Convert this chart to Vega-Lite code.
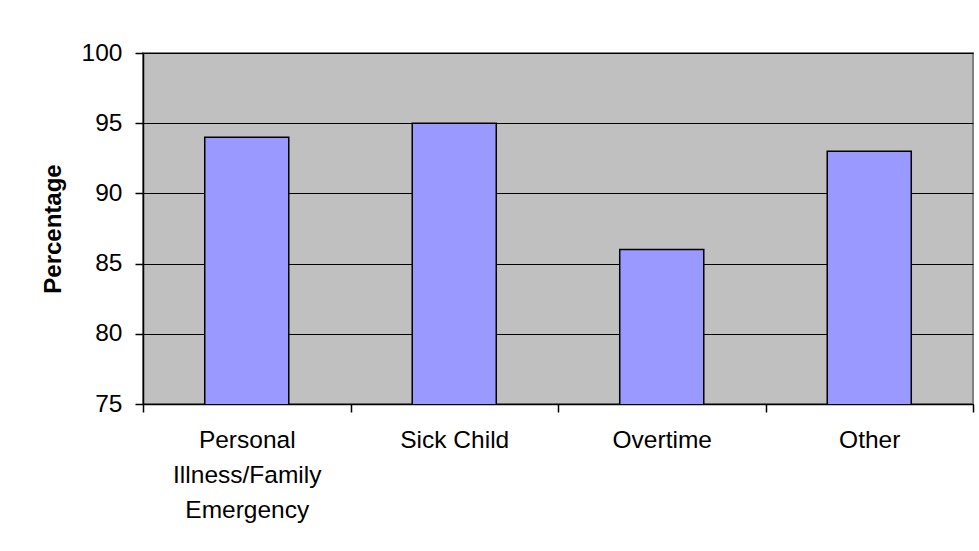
{
  "$schema": "https://vega.github.io/schema/vega-lite/v6.json",
  "width": 830,
  "height": 351,
  "autosize": {"type": "none"},
  "padding": {"left": 143, "top": 53, "right": 6, "bottom": 147},
  "background": "#ffffff",
  "data": {
    "values": [
      {"category": "Personal\nIllness/Family\nEmergency", "percentage": 94},
      {"category": "Sick Child", "percentage": 95},
      {"category": "Overtime", "percentage": 86},
      {"category": "Other", "percentage": 93}
    ]
  },
  "mark": {"type": "bar", "fill": "#9999FF", "stroke": "#000000", "strokeWidth": 1.5, "width": {"band": 0.405}, "clip": true},
  "encoding": {
    "x": {
      "field": "category",
      "type": "nominal",
      "sort": null,
      "scale": {"paddingInner": 0, "paddingOuter": 0},
      "axis": {
        "title": null,
        "labelAngle": 0,
        "labelExpr": "split(datum.label, '\\n')",
        "labelFont": "Liberation Sans",
        "labelFontSize": 24.5,
        "labelColor": "#000000",
        "labelLineHeight": 35,
        "labelPadding": 16,
        "labelBaseline": "top",
        "tickBand": "extent",
        "tickSize": 8,
        "tickColor": "#000000",
        "tickWidth": 1.5,
        "domainColor": "#000000",
        "domainWidth": 1.5,
        "grid": false
      }
    },
    "y": {
      "field": "percentage",
      "type": "quantitative",
      "scale": {"domain": [75, 100], "zero": false, "nice": false},
      "axis": {
        "title": "Percentage",
        "values": [75, 80, 85, 90, 95, 100],
        "titleFont": "Liberation Sans",
        "titleFontSize": 24,
        "titleFontWeight": "bold",
        "titleColor": "#000000",
        "titlePadding": 16,
        "labelFont": "Liberation Sans",
        "labelFontSize": 24.5,
        "labelColor": "#000000",
        "labelPadding": 13,
        "tickSize": 8,
        "tickColor": "#000000",
        "tickWidth": 1.5,
        "domainColor": "#000000",
        "domainWidth": 1.5,
        "grid": true,
        "gridColor": "#000000",
        "gridWidth": 1,
        "gridOpacity": 1
      }
    }
  },
  "config": {
    "view": {"fill": "#C0C0C0", "stroke": "#808080", "strokeWidth": 2}
  }
}
